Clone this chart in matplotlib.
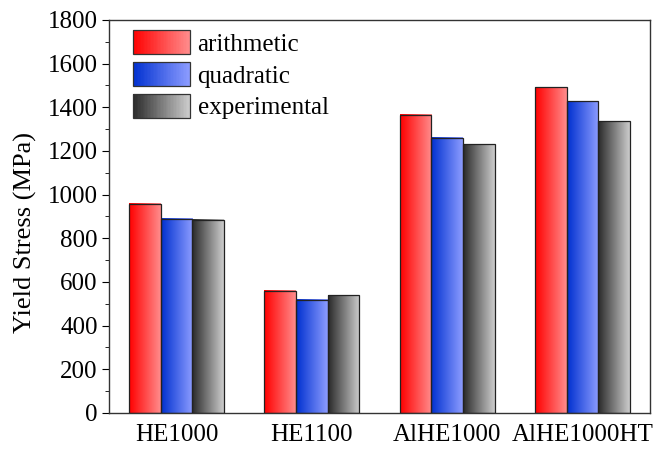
import numpy as np
import matplotlib
matplotlib.use('Agg')
import matplotlib.pyplot as plt
from matplotlib.patches import Rectangle
from matplotlib.legend_handler import HandlerBase
from matplotlib.colors import to_rgb

# data
categories = ['HE1000', 'HE1100', 'AlHE1000', 'AlHE1000HT']
arithmetic = [958, 560, 1367, 1492]
quadratic = [889, 519, 1261, 1428]
experimental = [884, 540, 1231, 1336]

series = [('arithmetic', arithmetic), ('quadratic', quadratic), ('experimental', experimental)]
# left -> right colour of the gradient fill
grads = {
	'arithmetic': ('#ff0000', '#ff8c8c'),
	'quadratic': ('#0030d0', '#8c9cff'),
	'experimental': ('#2a2a2a', '#cccccc'),
}

plt.rcParams['font.family'] = ['Liberation Serif', 'DejaVu Serif']


def grad_img(c0, c1, n=64):
	a = np.array(to_rgb(c0))
	b = np.array(to_rgb(c1))
	t = np.linspace(0, 1, n)
	row = a[None, :] * (1 - t[:, None]) + b[None, :] * t[:, None]
	return row[None, :, :]


class GradHandler(HandlerBase):
	def __init__(self, c0, c1):
		super().__init__()
		self.c0, self.c1 = c0, c1

	def create_artists(self, legend, orig_handle, xdescent, ydescent, width, height, fontsize, trans):
		arts = []
		n = 40
		a = np.array(to_rgb(self.c0))
		b = np.array(to_rgb(self.c1))
		for i in range(n):
			t = i / (n - 1)
			r = Rectangle((-xdescent + width * i / n, -ydescent), width / n + 0.3, height,
						  facecolor=a * (1 - t) + b * t, edgecolor='none', transform=trans)
			arts.append(r)
		arts.append(Rectangle((-xdescent, -ydescent), width, height, facecolor='none',
							  edgecolor='#333333', lw=0.9, transform=trans))
		return arts


fig = plt.figure(figsize=(6.6, 4.51), dpi=100)
ax = fig.add_axes([0.165, 0.0843, 0.82, 0.8714])

x = np.arange(len(categories))
w = 0.234
handles = []
for k, (name, vals) in enumerate(series):
	offs = (k - 1) * w
	bars = ax.bar(x + offs, vals, w, facecolor='none', edgecolor='#222222', lw=0.9, zorder=3, label=name)
	img = grad_img(*grads[name])
	for b in bars:
		bx, by = b.get_x(), b.get_y()
		ax.imshow(img, extent=(bx, bx + b.get_width(), by, by + b.get_height()),
				  aspect='auto', zorder=2, interpolation='bilinear')
	handles.append(bars)

ax.set_xlim(-0.5, 3.5)
ax.set_ylim(0, 1800)
ax.set_xticks(x)
ax.set_xticklabels(categories, fontsize=18)
ax.tick_params(axis='x', length=0, pad=8)
ax.set_yticks(np.arange(0, 1801, 200))
ax.set_yticks(np.arange(0, 1801, 100), minor=True)
ax.tick_params(axis='y', which='major', length=5, direction='out', labelsize=18, pad=3)
ax.tick_params(axis='y', which='minor', length=3, direction='out')
ax.set_ylabel('Yield Stress (MPa)', fontsize=19)
ax.yaxis.set_label_coords(-0.133, 0.46)
for s in ax.spines.values():
	s.set_color('#333333')
	s.set_linewidth(1.0)

hmap = {h: GradHandler(*grads[n]) for h, (n, _) in zip(handles, series)}
ax.legend(handles, [n for n, _ in series], handler_map=hmap, loc='upper left',
		  bbox_to_anchor=(0.016, 1.012), frameon=False, fontsize=18,
		  handlelength=2.3, handleheight=1.1, handletextpad=0.3, labelspacing=0.25, borderaxespad=0.2)

fig.savefig('out.png', dpi=100)
